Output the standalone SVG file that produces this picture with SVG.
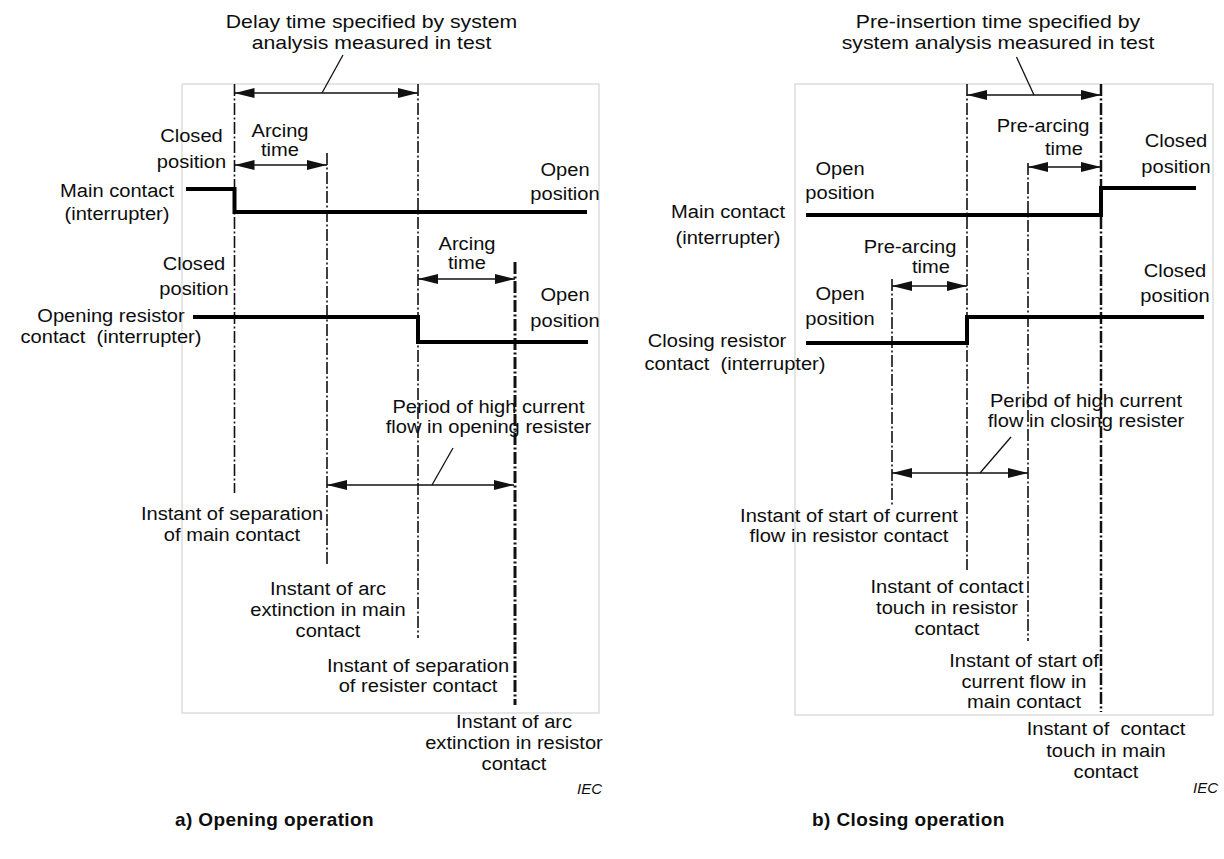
<svg xmlns="http://www.w3.org/2000/svg" width="1224" height="859" viewBox="0 0 1224 859">
<style>
text{font-family:"Liberation Sans",Arial,sans-serif;fill:#0d0d0d}
.l{font-size:18.8px;text-anchor:middle}
.iec{font-size:15px;font-style:italic;text-anchor:end}
.cap{font-size:19px;font-weight:bold;letter-spacing:0.4px}
.box{fill:none;stroke:#d4d4d4;stroke-width:1.2}
.dl{stroke:#111;stroke-width:1.6;stroke-dasharray:12 2.5 2 2.5;fill:none}
.dk{stroke-width:3}
.sig{fill:none;stroke:#000;stroke-width:4}
.arr{stroke:#111;stroke-width:1.3;fill:none;marker-start:url(#ah);marker-end:url(#ah)}
.ld{stroke:#111;stroke-width:1.3}
</style>
<defs>
<marker id="ah" viewBox="0 0 20 10" refX="20" refY="5" markerWidth="20" markerHeight="10" markerUnits="userSpaceOnUse" orient="auto-start-reverse">
<path d="M0,0 L20,5 L0,10 z" fill="#111"/>
</marker>
</defs>
<rect width="1224" height="859" fill="#fff"/>

<!-- ===== Panel a ===== -->
<g id="panel-a">
<rect id="frame-a" class="box" x="182" y="84" width="417" height="629"/>
<g id="time-lines-a">
<line class="dl" x1="234.5" y1="84" x2="234.5" y2="493"/>
<line class="dl" x1="327" y1="153" x2="327" y2="565"/>
<line class="dl" x1="418" y1="84" x2="418" y2="638"/>
<line class="dl dk" x1="515" y1="262" x2="515" y2="705"/>
</g>
<g id="main-contact-a">
<path class="sig" d="M186,189 H234.5 V212 H587"/>
<text class="l" transform="translate(117 197) scale(1.07 1)"><tspan x="0" y="0">Main contact</tspan><tspan x="0" y="23">(interrupter)</tspan></text>
</g>
<g id="resistor-contact-a">
<path class="sig" d="M193,317 H418 V342 H588"/>
<text class="l" transform="translate(111 322) scale(1.07 1)"><tspan x="0" y="0">Opening resistor</tspan><tspan x="0" y="21">contact&#160; (interrupter)</tspan></text>
</g>
<g id="connectors-a">
<line class="arr" x1="234.5" y1="93" x2="418" y2="93"/>
<line class="arr" x1="234.5" y1="165" x2="327" y2="165"/>
<line class="arr" x1="418" y1="279" x2="515" y2="279"/>
<line class="arr" x1="327" y1="485" x2="514" y2="485"/>
<line class="ld" x1="343" y1="55" x2="322" y2="93"/>
<line class="ld" x1="453" y1="448" x2="432" y2="485"/>
</g>
<g id="labels-a">
<text class="l" transform="translate(371.5 28) scale(1.13 1)"><tspan x="0" y="0">Delay time specified by system</tspan><tspan x="0" y="21">analysis measured in test</tspan></text>
<text class="l" transform="translate(280 137) scale(1.07 1)"><tspan x="0" y="0">Arcing</tspan><tspan x="0" y="19">time</tspan></text>
<text class="l" transform="translate(191.5 142) scale(1.07 1)"><tspan x="0" y="0">Closed</tspan><tspan x="0" y="26">position</tspan></text>
<text class="l" transform="translate(565 176) scale(1.07 1)"><tspan x="0" y="0">Open</tspan><tspan x="0" y="24">position</tspan></text>
<text class="l" transform="translate(467 250) scale(1.07 1)"><tspan x="0" y="0">Arcing</tspan><tspan x="0" y="19">time</tspan></text>
<text class="l" transform="translate(194 270) scale(1.07 1)"><tspan x="0" y="0">Closed</tspan><tspan x="0" y="25">position</tspan></text>
<text class="l" transform="translate(565 301) scale(1.07 1)"><tspan x="0" y="0">Open</tspan><tspan x="0" y="26">position</tspan></text>
<text class="l" transform="translate(488.5 413) scale(1.07 1)"><tspan x="0" y="0">Period of high current</tspan><tspan x="0" y="20">flow in opening resister</tspan></text>
<text class="l" transform="translate(232 520) scale(1.07 1)"><tspan x="0" y="0">Instant of separation</tspan><tspan x="0" y="21">of main contact</tspan></text>
<text class="l" transform="translate(328 595) scale(1.07 1)"><tspan x="0" y="0">Instant of arc</tspan><tspan x="0" y="21">extinction in main</tspan><tspan x="0" y="42">contact</tspan></text>
<text class="l" transform="translate(418 672) scale(1.07 1)"><tspan x="0" y="0">Instant of separation</tspan><tspan x="0" y="20">of resister contact</tspan></text>
<text class="l" transform="translate(514 728) scale(1.07 1)"><tspan x="0" y="0">Instant of arc</tspan><tspan x="0" y="21">extinction in resistor</tspan><tspan x="0" y="42">contact</tspan></text>
<text class="iec" x="602" y="794">IEC</text>
<text class="cap" x="175" y="826">a) Opening operation</text>
</g>
</g>

<!-- ===== Panel b ===== -->
<g id="panel-b">
<rect id="frame-b" class="box" x="795" y="84" width="418" height="631"/>
<g id="time-lines-b">
<line class="dl" x1="892" y1="279" x2="892" y2="505"/>
<line class="dl" x1="967" y1="84" x2="967" y2="570"/>
<line class="dl" x1="1028" y1="163" x2="1028" y2="641"/>
<line class="dl" style="stroke-width:2.5" x1="1101" y1="84" x2="1101" y2="712"/>
</g>
<g id="main-contact-b">
<path class="sig" d="M806,215 H1101 V188 H1196"/>
<text class="l" transform="translate(728 218) scale(1.07 1)"><tspan x="0" y="0">Main contact</tspan><tspan x="0" y="26">(interrupter)</tspan></text>
</g>
<g id="resistor-contact-b">
<path class="sig" d="M806,343 H967 V317 H1204"/>
<text class="l" transform="translate(717 347) scale(1.07 1)">Closing resistor</text>
<text class="l" transform="translate(735 370) scale(1.07 1)">contact&#160; (interrupter)</text>
</g>
<g id="connectors-b">
<line class="arr" x1="967" y1="95" x2="1101" y2="95"/>
<line class="arr" x1="1028" y1="167" x2="1101" y2="167"/>
<line class="arr" x1="892" y1="286" x2="967" y2="286"/>
<line class="arr" x1="892" y1="473" x2="1028" y2="473"/>
<line class="ld" x1="1016.5" y1="57" x2="1034" y2="95"/>
<line class="ld" x1="1011" y1="437" x2="980" y2="473"/>
</g>
<g id="labels-b">
<text class="l" transform="translate(998 28) scale(1.13 1)"><tspan x="0" y="0">Pre-insertion time specified by</tspan><tspan x="0" y="21">system analysis measured in test</tspan></text>
<text class="l" transform="translate(1043 132) scale(1.07 1)">Pre-arcing</text>
<text class="l" transform="translate(1064 155) scale(1.07 1)">time</text>
<text class="l" transform="translate(1176 147) scale(1.07 1)"><tspan x="0" y="0">Closed</tspan><tspan x="0" y="26">position</tspan></text>
<text class="l" transform="translate(840 175) scale(1.07 1)"><tspan x="0" y="0">Open</tspan><tspan x="0" y="24">position</tspan></text>
<text class="l" transform="translate(910 253) scale(1.07 1)">Pre-arcing</text>
<text class="l" transform="translate(931 273) scale(1.07 1)">time</text>
<text class="l" transform="translate(840 300) scale(1.07 1)"><tspan x="0" y="0">Open</tspan><tspan x="0" y="25">position</tspan></text>
<text class="l" transform="translate(1175 277) scale(1.07 1)"><tspan x="0" y="0">Closed</tspan><tspan x="0" y="25">position</tspan></text>
<text class="l" transform="translate(1086 407) scale(1.07 1)"><tspan x="0" y="0">Period of high current</tspan><tspan x="0" y="20">flow in closing resister</tspan></text>
<text class="l" transform="translate(849 522) scale(1.07 1)"><tspan x="0" y="0">Instant of start of current</tspan><tspan x="0" y="20">flow in resistor contact</tspan></text>
<text class="l" transform="translate(947 593) scale(1.07 1)"><tspan x="0" y="0">Instant of contact</tspan><tspan x="0" y="21">touch in resistor</tspan><tspan x="0" y="42">contact</tspan></text>
<text class="l" transform="translate(1024 667) scale(1.07 1)"><tspan x="0" y="0">Instant of start of</tspan><tspan x="0" y="21">current flow in</tspan><tspan x="0" y="41">main contact</tspan></text>
<text class="l" transform="translate(1106 735) scale(1.07 1)"><tspan x="0" y="0">Instant of&#160; contact</tspan><tspan x="0" y="22">touch in main</tspan><tspan x="0" y="43">contact</tspan></text>
<text class="iec" x="1218" y="793">IEC</text>
<text class="cap" x="812" y="826">b) Closing operation</text>
</g>
</g>
</svg>
